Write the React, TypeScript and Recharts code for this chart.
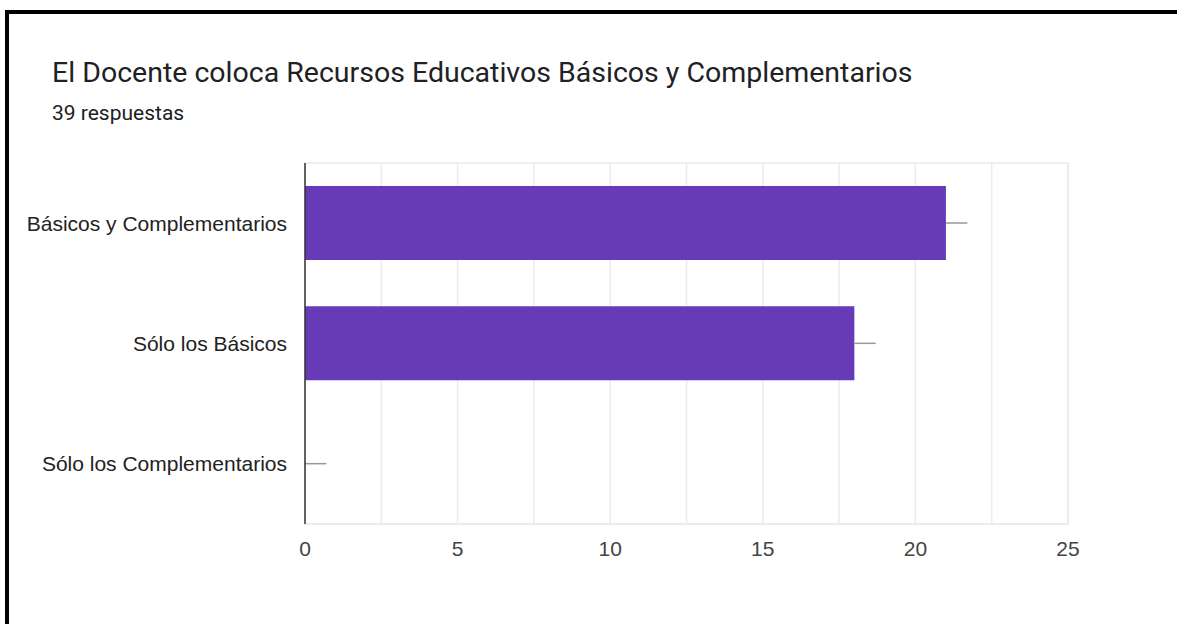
import { BarChart, Bar, XAxis, YAxis, CartesianGrid, ReferenceArea } from "recharts";

const categories = ["Básicos y Complementarios", "Sólo los Básicos", "Sólo los Complementarios"];
const counts = [21, 18, 0];
const whiskers = [0.7, 0.7, 0.7];
const xTicks = [0, 2.5, 5, 7.5, 10, 12.5, 15, 17.5, 20, 22.5, 25];

const data = categories.map((name, i) => ({
  name,
  value: counts[i],
  whisker: whiskers[i],
}));

const TICK_FONT = "'Liberation Sans', Arial, sans-serif";

// draws the little grey line that sticks out past each bar
const WhiskerShape = (props: any) => {
  const { x, y, width, height } = props;
  const cy = y + height / 2;
  return <line x1={x} x2={x + width} y1={cy} y2={cy} stroke="#999" strokeWidth={1.5} />;
};

export default function App() {
  return (
    <div
      style={{
        position: "fixed",
        left: 0,
        top: 0,
        width: 1177,
        height: 624,
        overflow: "hidden",
        background: "#fff",
      }}
    >
      <div
        style={{
          position: "absolute",
          left: 5,
          top: 10,
          width: 1300,
          height: 700,
          borderTop: "4px solid #000",
          borderLeft: "4px solid #000",
        }}
      />
      <div
        style={{
          position: "absolute",
          left: 52,
          top: 57,
          fontFamily: "Roboto, sans-serif",
          fontSize: 28.5,
          lineHeight: "32px",
          color: "#202124",
          whiteSpace: "nowrap",
        }}
      >
        El Docente coloca Recursos Educativos Básicos y Complementarios
      </div>
      <div
        style={{
          position: "absolute",
          left: 52,
          top: 101,
          fontFamily: "Roboto, sans-serif",
          fontSize: 21,
          lineHeight: "24px",
          color: "#202124",
          whiteSpace: "nowrap",
        }}
      >
        39 respuestas
      </div>
      <div style={{ position: "absolute", left: 0, top: 0 }}>
        <BarChart
          width={1177}
          height={624}
          data={data}
          layout="vertical"
          margin={{ top: 163, right: 109, bottom: 60, left: 0 }}
          barSize={74}
        >
          <CartesianGrid horizontal={false} stroke="#ebebeb" strokeWidth={1.5} />
          <ReferenceArea x1={0} x2={25} fill="none" stroke="#ebebeb" strokeWidth={1.5} />
          <XAxis
            type="number"
            domain={[0, 25]}
            ticks={xTicks}
            interval={0}
            tickFormatter={(v: number) => (v % 5 === 0 ? String(v) : "")}
            axisLine={{ stroke: "#ebebeb", strokeWidth: 1.5 }}
            tickLine={false}
            tickSize={0}
            tickMargin={17}
            height={40}
            tick={{ fill: "#444", fontSize: 21, fontFamily: TICK_FONT }}
          />
          <YAxis
            type="category"
            dataKey="name"
            width={305}
            axisLine={{ stroke: "#333", strokeWidth: 1.5 }}
            tickLine={false}
            tickSize={0}
            tickMargin={18}
            tick={{ fill: "#222", fontSize: 21, fontFamily: TICK_FONT }}
          />
          <Bar dataKey="value" stackId="s" fill="#673ab7" isAnimationActive={false} />
          <Bar dataKey="whisker" stackId="s" shape={WhiskerShape} isAnimationActive={false} />
        </BarChart>
      </div>
    </div>
  );
}
